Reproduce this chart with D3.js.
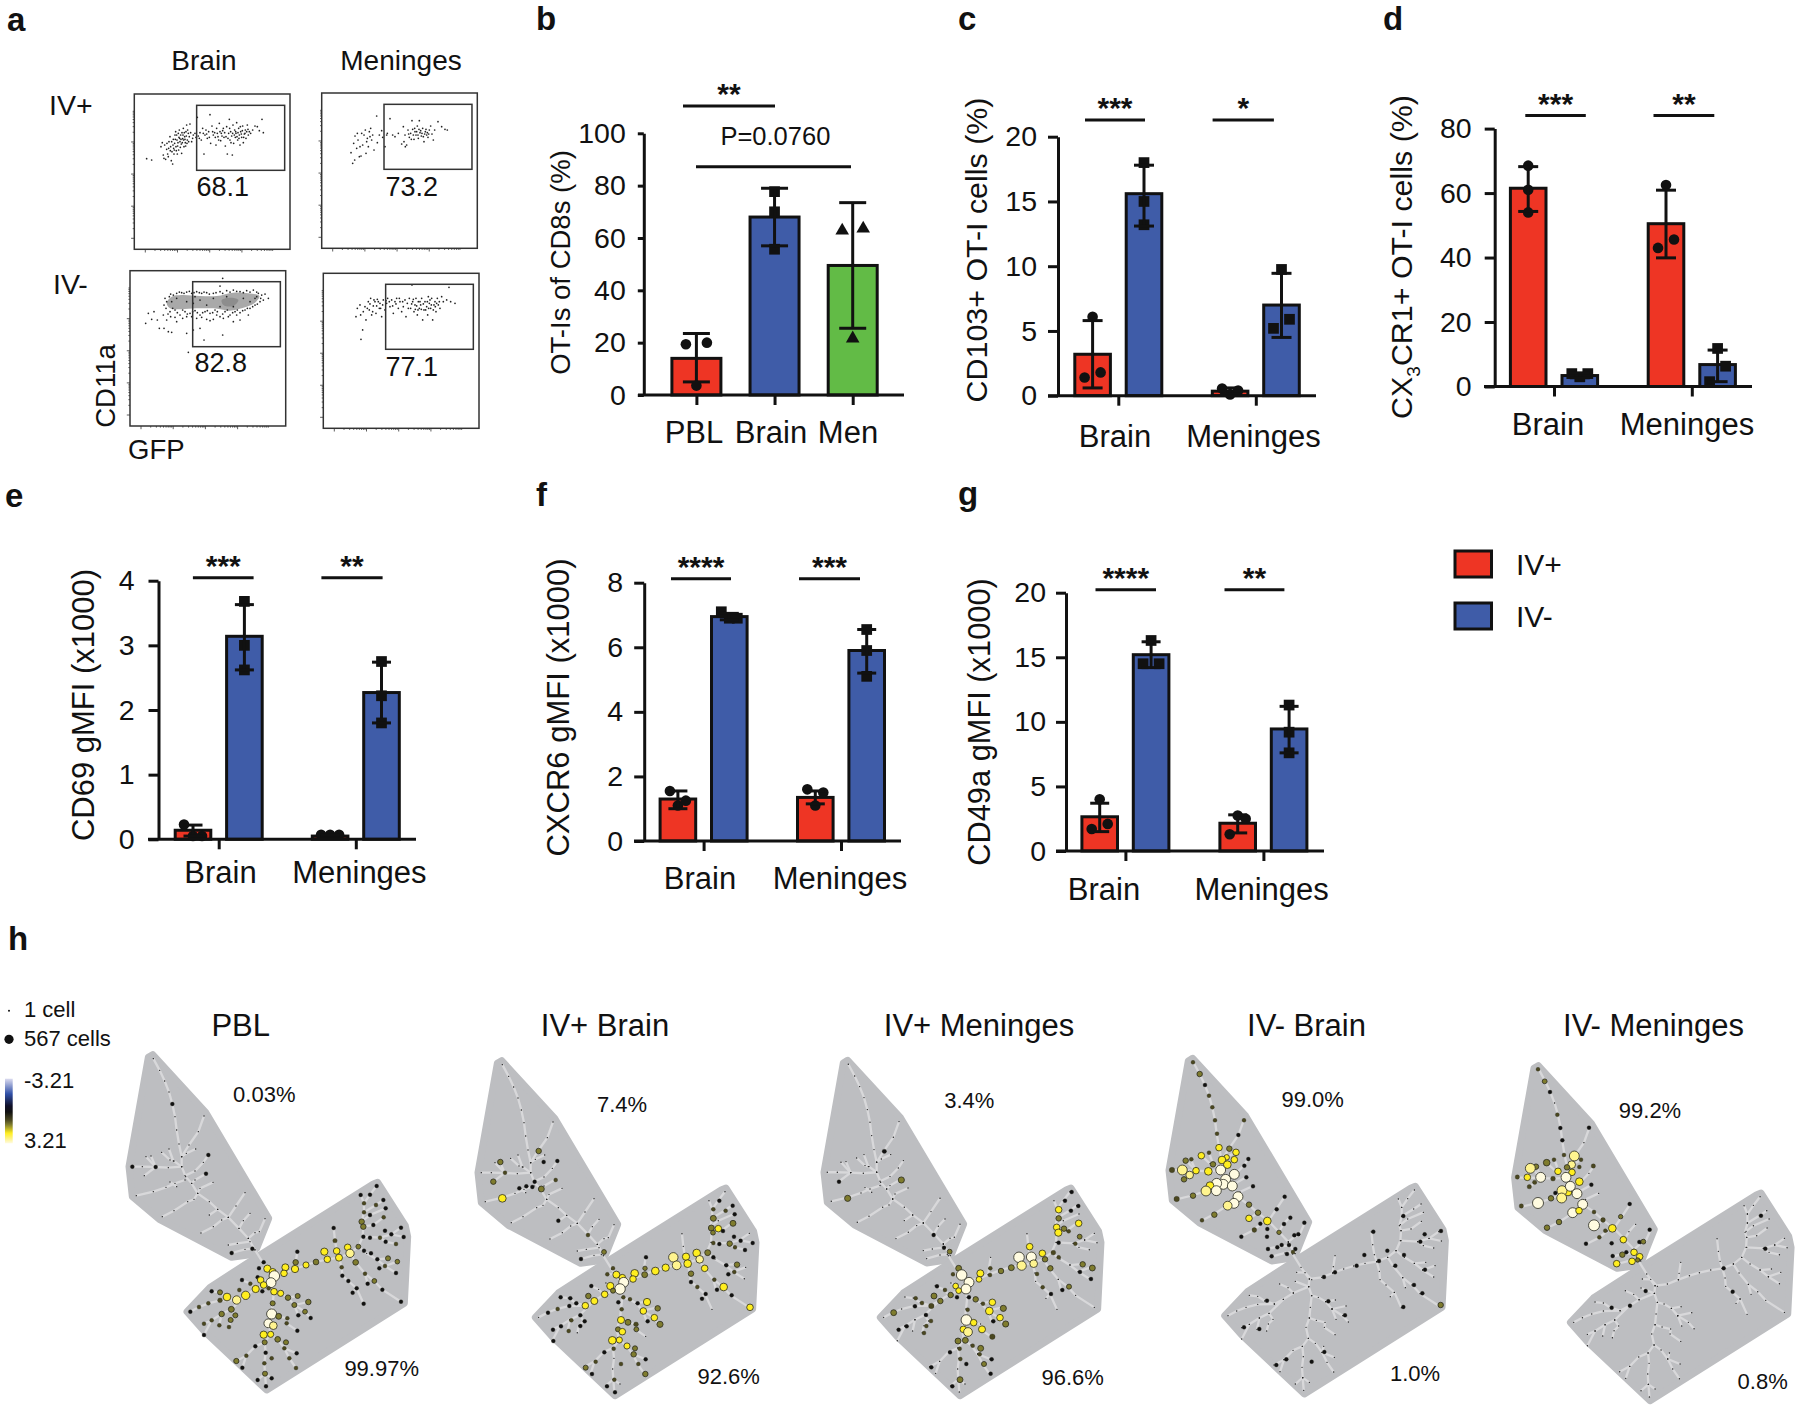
<!DOCTYPE html>
<html><head><meta charset="utf-8">
<script src="https://cdn.jsdelivr.net/npm/d3@7"></script>
<style>html,body{margin:0;background:#fff}svg{display:block}text{font-family:"Liberation Sans",Arial,sans-serif;fill:#111}</style>
</head><body><div id="c"></div>
<script>
// ---------- DATA: bar panels ----------
const seriesNames=['IV+','IV-'];
const bCats=['PBL','Brain','Men'];
const bMean=[14,68,49.5], bLow=[5,57,25.5], bHigh=[23.5,79,73.5];
const bPts=[[[19.4,-1],[20,1],[3.6,0]],[[77.7,0],[70,0],[55.7,0]],[[62.8,-1],[63.6,1],[21.6,0]]];
const groups=['Brain','Meninges'];
const cMean=[3.2,15.6,0.35,7], cLow=[0.6,13.1,0.1,4.5], cHigh=[5.8,17.8,0.6,9.45];
const cPts=[[[6.1,0],[1.4,-1],[1.8,1]],[[18,0],[15,0],[13.2,0]],[[0.55,-1],[0.1,0],[0.4,1]],[[9.75,0],[5.2,-1],[5.9,1]]];
const dMean=[61.5,3.4,50.5,6.8], dLow=[54.3,2.7,39.9,1.5], dHigh=[68.2,4.1,60.9,11.3];
const dPts=[[[68.5,0],[61,0],[54,0]],[[4,-1],[3,0],[4,1]],[[62.5,0],[43,-1],[45.6,1]],[[11.8,0],[1.5,-1],[6.3,1]]];
const eMean=[0.14,3.14,0.05,2.27], eLow=[0.05,2.62,0.03,1.8], eHigh=[0.22,3.63,0.07,2.74];
const ePts=[[[0.23,-1],[0.05,1],[0.05,0]],[[3.68,0],[3,0],[2.62,0]],[[0.07,-1],[0.07,0],[0.07,1]],[[2.75,0],[2.22,0],[1.8,0]]];
const fMean=[1.3,6.95,1.35,5.9], fLow=[1,6.85,1.15,5.2], fHigh=[1.55,7.05,1.55,6.55];
const fPts=[[[1.55,-1],[1.1,0],[1.25,1]],[[7.1,-1],[6.9,0],[6.9,1]],[[1.6,-1],[1.1,0],[1.5,1]],[[6.55,0],[5.9,0],[5.1,0]]];
const gMean=[2.65,15.2,2.15,9.45], gLow=[1.5,14.2,1.4,7.6], gHigh=[3.7,16.2,2.8,11.2];
const gPts=[[[4,0],[1.7,-1],[2.1,1]],[[16.3,0],[14.5,-1],[14.5,1]],[[2.75,0],[2.5,1],[1.3,-1]],[[11.3,0],[9.2,0],[7.6,0]]];

// ---------- DATA: flow plots, events in acquisition units of each plot ----------
const flowBrainPlus=[[440,476],[455,480],[483,440],[487,428],[490,465],[492,475],[497,478],[500,448],[503,462],[505,470],[507,425],[510,410],[512,440],[514,482],[516,455],[518,492],[520,418],[521,445],[522,462],[524,430],[525,405],[527,395],[529,452],[531,420],[533,438],[535,400],[537,412],[538,390],[540,425],[542,405],[544,432],[546,398],[548,416],[550,385],[552,440],[554,410],[556,428],[558,395],[560,375],[562,420],[565,400],[568,410],[570,372],[575,425],[580,405],[585,400],[592,352],[595,408],[600,398],[604,420],[608,385],[612,462],[615,405],[618,390],[622,415],[626,395],[630,344],[632,430],[636,378],[640,405],[644,398],[648,435],[650,385],[654,410],[658,370],[662,422],[664,400],[668,392],[672,412],[676,438],[680,380],[682,462],[686,400],[688,358],[690,420],[692,395],[695,408],[697,465],[699,375],[701,430],[704,390],[706,412],[708,400],[710,368],[713,420],[716,385],[718,405],[720,435],[722,395],[725,412],[728,378],[730,428],[733,402],[736,390],[738,415],[742,375],[745,405],[748,395],[752,400],[758,390],[765,378],[772,380],[778,392],[786,358],[790,398],
[494,435],[501,430],[506,445],[511,452],[515,425],[519,435],[523,450],[526,418],[528,440],[530,405],[532,462],[534,428],[536,450],[539,415],[541,442],[543,418],[545,460],[547,428],[549,405],[551,420],[553,398],[555,418],[557,438],[559,408],[561,430],[563,390],[566,425],[572,398],[578,415],[588,412],[598,415],[610,400],[620,402],[628,412],[638,395],[646,412],[652,400],[656,420],[660,395],[666,408],[670,385],[674,398],[678,410],[684,415],[689,385],[693,428],[698,400],[703,405],[707,395],[711,410],[714,398],[717,415],[721,380],[724,402],[727,392],[731,412],[735,400],[740,395],[744,388]];
const flowMenPlus=[[1053,458],[1058,490],[1064,480],[1061,430],[1065,408],[1070,445],[1074,420],[1078,470],[1083,468],[1085,400],[1088,435],[1092,405],[1096,390],[1098,460],[1102,415],[1105,440],[1108,395],[1112,385],[1115,420],[1118,405],[1122,450],[1130,348],[1132,428],[1138,405],[1145,392],[1148,412],[1155,440],[1160,405],[1162,400],[1170,356],[1178,405],[1185,410],[1195,400],[1205,432],[1210,380],[1215,405],[1220,435],[1224,390],[1228,412],[1232,400],[1236,362],[1238,388],[1242,418],[1245,395],[1248,405],[1252,378],[1255,415],[1258,362],[1260,398],[1264,408],[1268,385],[1272,425],[1276,395],[1280,405],[1284,412],[1288,390],[1292,378],[1296,402],[1300,420],[1304,390],[1314,365],[1325,380],[1335,388],[1342,390],
[1226,402],[1234,418],[1240,405],[1244,385],[1250,395],[1254,405],[1257,388],[1262,392],[1266,400],[1270,410],[1274,402],[1278,388],[1282,398],[1286,402],[1212,425],[1216,440],[1072,400],[1080,440],[1100,425],[1110,410]];
const flowBrainMinus=[[508,890],[520,885],[530,880],[545,878],[560,876],[575,880],[590,875],[605,880],[620,878],[640,880],[660,875],[680,872],[700,870],[720,875],[740,872],[760,870],[775,880],[785,885],[795,882],[805,895],[780,905],[765,915],[750,925],[735,930],[720,938],[705,935],[690,945],[675,935],[660,950],[645,930],[630,940],[615,935],[600,945],[585,932],[570,940],[555,935],[540,945],[525,930],[510,935],[498,925],[492,915],[490,945],[500,960],[512,950],[530,965],[548,955],[437,970],[445,940],[462,935],[478,985],[492,985],[505,995],[515,997],[472,960],[455,958],[560,1000],[580,990],[600,985],[612,1020],[668,1005],[630,962],[668,835],[660,858],[700,965],[720,960],[565,1057],[745,945],[515,905],[530,895],[560,905],[580,910],[585,890],[600,900],[620,915],[640,895],[660,920],[680,890],[700,920],[730,895],[750,905],[765,895],[500,905],[495,895],[770,890],[782,895],[620,958],[640,958],[670,955],[590,955],[575,950],
[512,882],[538,876],[552,880],[568,874],[582,878],[598,878],[612,876],[628,882],[648,878],[668,880],[690,876],[710,874],[730,878],[750,876],[770,876],[790,900],[772,912],[758,920],[742,925],[728,932],[712,930],[698,938],[682,930],[668,942],[652,935],[638,938],[622,932],[608,938],[592,938],[578,935],[562,942],[548,930],[532,938],[518,925],[504,942],[525,952],[560,950],[605,952],[650,945],[685,950],[710,945]];
const flowMenMinus=[[1083,1018],[1088,990],[1068,950],[1072,925],[1080,915],[1082,945],[1090,935],[1095,920],[1098,960],[1105,905],[1108,930],[1112,895],[1115,945],[1120,918],[1125,905],[1128,940],[1132,898],[1138,925],[1140,910],[1145,950],[1150,900],[1155,930],[1160,910],[1163,895],[1170,920],[1175,900],[1180,940],[1185,905],[1190,895],[1195,925],[1200,905],[1205,935],[1210,920],[1215,900],[1218,950],[1222,910],[1228,895],[1232,925],[1236,855],[1238,905],[1242,935],[1245,915],[1248,895],[1252,945],[1255,905],[1258,925],[1262,915],[1265,895],[1268,960],[1272,930],[1275,905],[1280,920],[1283,945],[1285,890],[1288,910],[1292,925],[1295,895],[1298,960],[1302,915],[1305,905],[1308,935],[1312,895],[1315,915],[1320,925],[1325,890],[1330,905],[1340,900],[1347,862],[1352,905],[1365,910],
[1102,925],[1110,912],[1118,935],[1122,900],[1130,918],[1135,905],[1142,925],[1148,915],[1158,902],[1168,905],[1178,918],[1188,912],[1198,895],[1208,905],[1225,925],[1235,912],[1240,898],[1246,928],[1250,918],[1254,930],[1260,905],[1264,928],[1270,912],[1277,930],[1282,905],[1286,925],[1290,900],[1294,915],[1300,930],[1306,920],[1310,910],[1318,905]];
const flowDensityOuter=[[500,908],[515,890],[545,885],[600,888],[650,888],[700,878],[745,880],[778,888],[765,908],[725,925],[690,932],[640,925],[590,925],[540,928],[510,925]];
const flowDensityInner=[[665,900],[695,893],[715,900],[700,918],[670,915]];
const flowValues=['68.1','73.2','82.8','77.1'];

// ---------- DATA: spanning tree layout (layout units) ----------
const hullUpper=[[458,224],[617,397],[806,715],[770,805],[750,824],[695,832],[478,718],[397,650],[387,560],[445,232]];
const hullLower=[[1133,607],[1216,737],[1223,770],[1213,970],[800,1230],[612,1053],[561,995],[630,922],[785,822],[1120,612]];
const branchesUpper=[
[[460,236],[479,271],[494,303],[507,336],[517,372],[525,410],[530,450],[537,492],[545,530],[545,560],[557,590],[575,610],[593,640],[628,665],[653,688],[685,712],[717,745],[745,775],[765,810]],
[[612,408],[595,455],[567,495],[545,530]],
[[545,560],[505,563],[467,561],[427,560],[397,560]],[[438,530],[467,561]],[[453,528],[467,561]],[[433,587],[467,561]],
[[485,517],[510,540],[522,543],[545,560]],[[507,507],[520,543]],[[587,507],[559,520],[545,530]],
[[625,525],[610,547],[585,573],[555,587]],[[618,581],[585,600],[575,610]],[[639,607],[600,625],[593,640]],
[[409,647],[460,635],[498,622],[525,610],[555,600]],[[510,606],[530,620]],
[[487,710],[522,692],[563,665],[582,658],[593,640]],[[735,638],[708,678],[685,712]],
[[795,716],[778,755],[765,758],[745,775]],[[603,759],[640,740],[665,720],[685,712]],[[628,705],[653,688]],[[750,700],[730,722],[717,745]],
[[685,795],[712,790],[750,785],[745,775]],[[695,819],[735,808],[757,806],[765,810]]];
const branchesLower=[
[[765,810],[790,850],[815,885],[852,880],[885,867],[918,855],[948,846],[982,838],[1017,833],[1050,820],[1075,800],[1088,770],[1090,740],[1085,725],[1092,697],[1092,670],[1082,645]],
[[1130,618],[1110,644],[1092,670]],[[1150,660],[1128,675],[1092,697]],[[1157,685],[1110,705],[1088,722]],[[1151,712],[1120,735],[1090,740]],
[[1203,743],[1174,763],[1140,773],[1090,770]],[[1211,771],[1174,763]],[[1188,792],[1157,785],[1140,773]],
[[1075,800],[1100,820],[1130,838],[1164,835]],[[1192,845],[1155,858],[1130,838]],[[1188,879],[1155,858]],
[[1050,820],[1067,847],[1095,881],[1123,903],[1147,929],[1203,965]],[[1103,911],[1095,881]],
[[1017,833],[1025,862],[1027,887],[1045,903],[1070,925],[1091,971]],[[1058,938],[1070,925]],
[[1001,744],[1005,782],[1010,812],[1017,833]],[[892,815],[887,848],[885,867]],
[[815,885],[813,908],[767,927],[737,946],[710,960],[681,951],[660,937],[635,934]],[[710,960],[660,961],[625,970],[597,981],[571,995]],
[[737,946],[694,988],[665,1002],[635,1021],[612,1031]],[[694,988],[706,1006],[692,1020],[687,1041]],[[665,1002],[658,1036]],[[635,1021],[612,1065]],
[[777,865],[802,866],[822,887]],[[773,892],[813,908]],[[726,900],[751,911],[767,927]],
[[813,908],[822,935],[818,970],[815,1002],[805,1030],[812,1063],[794,1087],[766,1099],[739,1127],[709,1143]],[[739,1127],[727,1163]],
[[794,1087],[797,1118],[793,1150],[795,1181],[798,1219]],[[795,1181],[773,1200]],[[795,1181],[815,1195]],
[[812,1063],[833,1078],[853,1105],[868,1135],[888,1164]],[[858,1087],[853,1105],[890,1120]],
[[822,935],[842,940],[864,953],[893,948]],[[864,953],[883,975],[895,1006]],[[883,975],[915,995],[932,1014]],[[925,966],[883,975]],
[[815,1002],[836,1009],[862,1015],[860,1030],[892,1052]]];

// ---------- DATA: nodes per sample [x, y, level, radius?] in each sample's layout units ----------
const expressionLevels=[0.1,0.9,1.35,2.2,2.8,3.2];
const nodesPBL=[[517,372,0],[625,525,0],[397,560,0],[467,561,0],[618,581,0],[695,819,0],[757,806,0],
[892,815,0],[791,847,0],[777,865,0],[802,866,3,3.3],[856,862,3,3.2],[887,847,2,2.5],[818,876,3,3.2],[823,888,5,4.8],[852,880,3,3],[885,867,3,3.3],[918,855,3,2.8],[948,846,2,2.6],[773,892,0],[782,900,3,3],[813,908,5,4.5],[791,915,3,3],[726,900,0],[751,911,1],[767,927,3,3.3],[787,934,0],[806,925,1],[822,935,3,3],[842,940,3,2.8],[718,930,1],[737,946,3,3.8],[681,951,3,3.5],[710,960,4,3.8],[660,937,2,2.3],[635,934,0],[660,961,1,2.2],[625,970,1],[597,981,1],[571,995,0],[864,953,2,2.5],[893,948,2,2.3],[883,975,2,2.3],[925,966,2,2.5],[818,970,2,2.3],[694,988,2,2.7],[665,1002,2,2.5],[706,1006,2,2.3],[915,995,2,2.2],[895,1006,0],[932,1014,0],[692,1020,2,2.3],[635,1021,1],[612,1031,1],[658,1036,1],[687,1041,1],[612,1065,0],[815,1002,5,4.6],[836,1009,2,2.7],[862,1015,1],[860,1030,1],[805,1030,5,4],[820,1037,4,3.5],[892,1052,0],[791,1064,3,3.3],[812,1063,3,2.8],[833,1078,2,2.6],[858,1087,2,2.3],[794,1087,2,2.3],[853,1105,1],[766,1099,0],[797,1118,0],[890,1120,0],[739,1127,1],[709,1143,2,2.4],[815,1135,1],[868,1135,1],[793,1150,1],[727,1163,0],[888,1164,1],[795,1181,2,2.3],[773,1200,0],[815,1195,0],[798,1219,0],
[973,815,3,3.3],[982,838,3,3],[1010,813,3,3],[1017,833,3,3.2],[1043,802,3,3],[1050,820,4,3.8],[1067,847,2,2.6],[1075,800,2,2.2],[1005,782,1,2],[1001,744,0],[1025,862,1],[1027,887,0],[1045,903,0],[1070,925,0],[1058,938,0],[1091,971,0],[1095,881,1],[1123,903,2,2.2],[1103,911,0],[1147,929,0],[1203,965,0],[1092,812,0],[1113,820,0],[1132,838,0],[1164,835,2,2.3],[1192,845,2,2.1],[1138,865,0],[1155,858,1],[1188,879,0],[1130,618,0],[1110,644,0],[1082,645,0],[1150,660,0],[1092,670,1],[1128,675,1],[1157,685,0],[1092,697,1],[1110,705,0],[1151,712,1],[1085,725,2,2.5],[1090,740,2,2.5],[1120,735,0],[1155,752,0],[1203,743,0],[1174,763,0],[1090,770,0],[1110,773,0],[1140,773,1],[1157,785,0],[1211,771,0],[1188,792,1]];
const nodesIVpBrain=[[266,513,2,2.5],[151,546,2,2.5],[281,546,0],[322,543,0],[165,578,1],[130,605,2,2.5],[254,605,0],[317,600,1],[229,619,0],[247,621,0],[208,625,0],[274,627,2,2.7],[157,655,3,3.5],[325,722,0],[414,765,1],[462,816,2,2.2],[393,837,0],
[808,662,0],[790,688,1],[848,677,0],[827,692,1],[854,703,0],[790,715,2,2.7],[849,730,2,2.7],[784,744,2,2.7],[805,746,3,3],[789,758,2,2.2],[819,753,0],[852,770,0],[872,782,0],[790,789,1],[808,792,0],[839,791,2,2.5],[908,789,0],[855,802,1],[885,810,0],[773,818,2,2.7],[740,819,3,3.5],[708,830,3,3.3],[670,832,4,4.3],[749,838,4,3.5],[713,851,3,3.5],[680,856,4,4],[647,863,3,3.3],[764,865,3,3],[616,873,3,3.5],[790,832,0],[829,856,0],[861,854,2,2.5],[723,881,2,2.5],[835,883,0],[853,876,1],[588,832,0],[585,865,2,2],[584,884,2,2.7],[554,880,3,3.5],[549,897,3,3],[489,865,1],[472,883,1],[499,884,3,3.2],[517,893,3,3],[521,907,5,4.5],[510,927,5,4.8],[481,918,3,3.3],[489,932,2,2.3],[424,918,0],[415,948,2,2.5],[464,943,3,3],[433,963,3,3.2],[406,977,3,3],[332,952,0],[361,955,0],[379,970,0],[358,978,0],[323,987,1],[294,998,0],[505,967,0],[520,952,1],[540,958,1],[563,970,0],[591,966,3,3.3],[515,988,1],[580,993,3,3],[623,985,2,2.5],[613,1013,3,3],[593,1024,0],[630,1033,2,2.8],[391,1006,0],[404,1024,0],[364,1021,1],[391,1038,0],[333,1039,0],[309,1049,0],[356,1053,1],[310,1083,0],[513,1020,3,3.2],[534,1027,2,2.7],[558,1033,1,2.2],[559,1048,2,2.2],[504,1048,2,2.3],[517,1055,3,3],[487,1081,3,3.5],[508,1080,3,2.8],[531,1098,3,2.8],[555,1105,2,2.3],[491,1106,1],[551,1123,2,2.5],[463,1117,0],[437,1145,1],[587,1138,0],[513,1152,1],[565,1152,1],[407,1163,2,2.3],[426,1182,0],[586,1182,2,2.5],[493,1199,1],[471,1219,0],[495,1237,0],[723,906,0],[742,921,1],[767,942,0],[756,956,0],[793,899,1],[801,929,0],[821,921,3,3.5],[845,946,0],[900,982,3,3]];
const nodesIVpMen=[[253,334,0,2],[304,420,2,2.8],[117,425,0],[143,475,2,2.8],[401,585,0],[432,623,0],[449,635,2,2.2],
[815,456,0],[795,482,0],[835,498,0],[776,509,3,3],[813,512,0],[776,535,2,2.5],[836,550,3,3],[770,562,3,3],[792,566,2,2.5],[775,578,3,3.3],[806,574,1],[776,608,0],[839,590,2,2.2],[826,611,1],[689,620,3,3],[727,640,3,3],[760,638,1,2.2],[657,652,5,4.8],[694,651,5,4.5],[735,658,2,2.5],[776,652,1],[665,677,4,4.2],[701,671,4,3.5],[634,683,2,2.7],[603,693,2,2.5],[751,685,2,2.5],[571,685,1],[570,705,1],[848,673,2,2.5],[877,684,2,2.7],[711,702,1],[840,696,0],[873,717,0],[541,700,3,3.2],[537,718,3,2.6],[476,685,2,2.7],[459,703,1],[485,705,5,4.8],[507,727,5,4.5],[498,747,5,4.5],[467,738,3,2.6],[476,752,3,2.6],[411,739,0],[435,750,1],[452,765,2,2.5],[471,772,0],[507,772,0],[527,778,2,2.5],[402,768,2,2.7],[421,783,2,2.5],[347,775,1],[366,789,1],[394,798,1,2.5],[345,799,0],[281,818,2,2.7],[503,809,1],[577,787,3,3],[549,791,1],[610,805,2,2.8],[568,813,3,3.5],[378,825,0],[600,833,3,3],[580,844,0],[617,852,2,2.8],[499,840,5,4.8],[521,848,3,3],[393,843,1],[379,858,1],[320,859,0],[296,869,0],[490,868,3,3],[504,876,4,4],[546,868,3,3.2],[372,879,1],[577,890,1,2.5],[474,903,2,2.7],[496,901,2,2.7],[518,917,1],[542,925,2,2.7],[479,926,1],[539,943,1],[450,937,0],[481,957,1],[575,958,0],[499,972,0],[552,972,2,2.3],[394,982,0],[572,1001,0],[480,1019,2,2.7],[457,1039,0],[728,742,1],[807,740,2,2.3],[787,750,0],[753,762,0]];
const nodesIVmBrain=[[129,67,1],[149,102,2,2.5],[165,135,0],[177,167,1],[187,202,1],[195,241,1],[201,281,1],[265,285,0],[282,241,1],[207,323,3,3],[238,326,2,2.5],[258,337,3,3],[177,338,1],[154,347,3,3],[230,352,3,2.5],[216,360,3,3.5],[253,359,3,3],[295,357,0],[124,358,1],[107,362,2,2.5],[189,373,2,2.5],[232,374,3,3.5],[283,377,0],[138,392,3,3],[97,390,4,4.5],[66,390,1,2.5],[175,394,3,3.5],[212,390,5,4.5],[253,403,5,4.5],[119,405,4,3.5],[102,418,2,2.5],[289,412,0],[227,418,5,4.5],[220,433,5,4.5],[200,430,5,4.5],[180,437,3,3.5],[247,438,5,4.5],[309,439,0],[168,453,4,4.5],[199,452,5,4.5],[129,467,2,2.5],[80,477,1,2.5],[264,470,5,4.5],[404,470,0],[252,490,5,4.5],[233,497,4,4],[297,494,2,2.5],[380,508,0],[324,518,2,2.5],[193,524,2,2.5],[421,533,0],[156,541,1],[297,535,3,3],[352,543,3,3.5],[463,548,0],[331,551,0],[402,552,0],[313,570,1,2.2],[387,577,2,2],[352,567,0],[274,590,0],[351,590,0],[433,586,0],[445,583,0],[395,615,0],[382,622,0],[417,615,0],[354,627,0],[365,649,0],[411,642,0],[436,627,0],[429,636,1],
[670,575,0],[760,528,0],[643,645,0],[712,632,0],[687,663,0],[620,677,0],[555,697,0],[522,711,0],[736,677,0],[762,645,0],[824,583,0],[873,573,0],[811,605,0],[825,689,0],[792,735,0],[817,760,0],[872,795,2,2.5],[760,801,0],[535,784,0],[585,826,0],[351,782,0],[282,862,0],[328,867,0],[379,975,0],[409,958,0],[485,965,0],[523,936,0]];
const nodesIVmMen=[[174,88,1],[194,124,2,2.2],[210,156,0],[232,224,1],[241,264,0],[327,263,0],[247,301,0],[252,345,1],[283,348,4,4.5],[303,359,1],[222,359,1],[200,368,2,3],[275,374,4,3.5],[168,380,2,2.5],[151,385,4,4.5],[261,382,2,2.5],[298,381,1],[340,378,1,2],[234,394,3,3],[276,397,3,3],[142,412,3,3],[112,411,1,2],[182,412,5,4.5],[219,416,1,2.2],[258,412,5,4.5],[164,427,1,2],[298,425,3,3.5],[148,440,1,2],[334,434,0],[264,456,3,3.5],[246,452,4,4.5],[271,439,5,4.5],[226,459,0],[291,461,5,4.5],[245,474,4,4.5],[213,475,2,2.5],[174,489,5,5],[124,498,1,2],[308,493,5,4.5],[449,492,0],[278,518,5,4.5],[297,512,3,3],[342,516,1],[422,530,2,2],[237,546,2,2.5],[369,540,1,2.2],[342,556,5,5],[201,563,2,2.5],[397,565,3,3.5],[376,572,1],[509,569,0],[358,592,1],[430,599,3,3],[478,606,0],[490,605,2,2.2],[318,611,0],[395,610,0],[462,637,3,3],[439,637,0],[427,644,2,2.5],[398,648,0],[479,650,3,3],[473,660,2,2],[456,664,3,3],[410,671,3,3],
[843,527,0],[856,626,0],[731,685,0],[497,753,0],[450,797,0],[395,803,0],[758,755,0]];
const sampleNames=['PBL','IV+ Brain','IV+ Meninges','IV- Brain','IV- Meninges'];
const upperPct=['0.03%','7.4%','3.4%','99.0%','99.2%'];
const lowerPct=['99.97%','92.6%','96.6%','1.0%','0.8%'];

// ---------- drawing ----------
const W=1800,H=1409;
const svg=d3.select('#c').append('svg').attr('width',W).attr('height',H).attr('viewBox',[0,0,W,H]);
const colors={'IV+':'#ee3524','IV-':'#3f5ca8',Men:'#62bb46',PBL:'#ee3524',Brain:'#3f5ca8'};
const ink='#111';
function txt(x,y,s,size,opt={}){return svg.append('text').attr('x',x).attr('y',y).attr('font-size',size)
  .attr('text-anchor',opt.anchor||'middle').attr('font-weight',opt.weight||null).text(s);}
function vtxt(x,y,s,size){return svg.append('text').attr('transform',`translate(${x},${y}) rotate(-90)`).attr('font-size',size).attr('text-anchor','middle').text(s);}

function marker(g,kind,x,y){
  if(kind==='circle') g.append('circle').attr('cx',x).attr('cy',y).attr('r',5.3).attr('fill',ink);
  else{const sym=kind==='square'?d3.symbolSquare:d3.symbolTriangle;const a=kind==='square'?115:80;
    g.append('path').attr('transform',`translate(${x},${y})`).attr('d',d3.symbol().type(sym).size(a)()).attr('fill',ink);}
}
function panel(o){
  const g=svg.append('g');
  const y=d3.scaleLinear().domain([0,o.yMax]).range([o.y0,o.yTop]);
  const x=d3.scalePoint().domain(o.cats).range(o.ticks);
  const ya=d3.axisLeft(y).tickValues(o.yTicks).tickFormat(d3.format('d')).tickSize(o.tickL||10).tickSizeOuter(0).tickPadding(o.pad||3);
  const ga=g.append('g').attr('transform',`translate(${o.axX},0)`).call(ya);
  ga.selectAll('text').attr('font-size',28.5).style('fill',ink);
  ga.selectAll('line,path').attr('stroke',ink).attr('stroke-width',3);
  const bars=o.mean.map((m,i)=>{
    const grouped=o.off>0;
    const cat=o.cats[grouped?Math.floor(i/2):i];
    const s=grouped?(i%2===0?-1:1):0;
    return {m,lo:o.low[i],hi:o.high[i],pts:o.pts[i],cx:x(cat)+s*o.off,color:grouped?colors[seriesNames[i%2]]:colors[cat],kind:o.kinds[i]};
  });
  g.selectAll('rect.b').data(bars).join('rect').attr('x',d=>d.cx-o.w/2).attr('width',o.w)
    .attr('y',d=>y(d.m)).attr('height',d=>y(0)-y(d.m)).attr('fill',d=>d.color).attr('stroke',ink).attr('stroke-width',3);
  bars.forEach(d=>{
    d.pts.forEach(p=>marker(g,d.kind,d.cx+p[1]*o.jit,y(p[0])));
    g.append('line').attr('x1',d.cx).attr('x2',d.cx).attr('y1',y(d.lo)).attr('y2',y(d.hi)).attr('stroke',ink).attr('stroke-width',3);
    [d.lo,d.hi].forEach(v=>g.append('line').attr('x1',d.cx-o.cap/2).attr('x2',d.cx+o.cap/2).attr('y1',y(v)).attr('y2',y(v)).attr('stroke',ink).attr('stroke-width',3));
  });
  const xa=d3.axisBottom(x).tickSize(10).tickSizeOuter(0).tickFormat('');
  const gx=g.append('g').attr('transform',`translate(0,${o.y0})`).call(xa);
  gx.select('.domain').remove();
  gx.selectAll('line').attr('stroke',ink).attr('stroke-width',3);
  g.append('line').attr('x1',o.xStart).attr('x2',o.xEnd).attr('y1',o.y0).attr('y2',o.y0).attr('stroke',ink).attr('stroke-width',3);
  o.cats.forEach((c,i)=>txt(o.labelX[i],o.labelY,c,31));
  (o.sig||[]).forEach(s=>{
    g.append('line').attr('x1',s.x1).attr('x2',s.x2).attr('y1',s.y).attr('y2',s.y).attr('stroke',ink).attr('stroke-width',3);
    txt((s.x1+s.x2)/2,s.y-2,s.t,30,{weight:'bold'});
  });
}
const groupedKinds=['circle','square','circle','square'];
panel({cats:bCats,mean:bMean,low:bLow,high:bHigh,pts:bPts,kinds:['circle','square','triangle'],y0:395,yTop:133.3,yMax:100,yTicks:[0,20,40,60,80,100],axX:643.8,xStart:638,xEnd:904,ticks:[696.4,852.7],off:0,w:49,cap:27,jit:10.5,tickL:6,pad:12,labelX:[694,771,848],labelY:443,
  sig:[{x1:683,x2:775,y:106,t:'**'}]});
panel({cats:groups,mean:cMean,low:cLow,high:cHigh,pts:cPts,kinds:groupedKinds,y0:395.7,yTop:136.7,yMax:20,yTicks:[0,5,10,15,20],axX:1058,xStart:1048,xEnd:1316,ticks:[1118.3,1255.8],off:25.7,w:35.6,cap:20,jit:8,pad:11,labelX:[1115,1253.5],labelY:447,
  sig:[{x1:1085,x2:1145,y:120,t:'***'},{x1:1212.6,x2:1273.9,y:120,t:'*'}]});
panel({cats:groups,mean:dMean,low:dLow,high:dHigh,pts:dPts,kinds:groupedKinds,y0:386.5,yTop:128.6,yMax:80,yTicks:[0,20,40,60,80],axX:1494.7,xStart:1484,xEnd:1752,ticks:[1554,1691.8],off:25.8,w:35.6,cap:20,jit:8,pad:13,labelX:[1548,1687],labelY:434.5,
  sig:[{x1:1525.3,x2:1585.8,y:115.5,t:'***'},{x1:1653.5,x2:1714.3,y:115.5,t:'**'}]});
panel({cats:groups,mean:eMean,low:eLow,high:eHigh,pts:ePts,kinds:groupedKinds,y0:839.3,yTop:580.7,yMax:4,yTicks:[0,1,2,3,4],axX:158.5,xStart:148,xEnd:416,ticks:[218.7,355.8],off:25.7,w:35.6,cap:19,jit:9,pad:14,labelX:[220.5,359.4],labelY:883,
  sig:[{x1:192.9,x2:253.6,y:577.7,t:'***'},{x1:321.4,x2:382.6,y:577.7,t:'**'}]});
panel({cats:groups,mean:fMean,low:fLow,high:fHigh,pts:fPts,kinds:groupedKinds,y0:841,yTop:582.7,yMax:8,yTicks:[0,2,4,6,8],axX:644.2,xStart:634,xEnd:901,ticks:[703.6,841],off:25.7,w:35.6,cap:19,jit:8,pad:11,labelX:[700,840],labelY:888.5,
  sig:[{x1:671,x2:731,y:578.7,t:'****'},{x1:799,x2:860,y:578.7,t:'***'}]});
panel({cats:groups,mean:gMean,low:gLow,high:gHigh,pts:gPts,kinds:groupedKinds,y0:851,yTop:592.7,yMax:20,yTicks:[0,5,10,15,20],axX:1066,xStart:1056,xEnd:1324,ticks:[1125.4,1263.4],off:25.7,w:35.6,cap:19,jit:8,pad:10,labelX:[1104,1261.6],labelY:900,
  sig:[{x1:1095.5,x2:1156,y:589.7,t:'****'},{x1:1224.5,x2:1284.4,y:589.7,t:'**'}]});

// b extra bracket
svg.append('line').attr('x1',696).attr('x2',851).attr('y1',166.7).attr('y2',166.7).attr('stroke',ink).attr('stroke-width',3);
txt(775.4,145,'P=0.0760',25.5);

// axis titles
vtxt(570,262.5,'OT-Is of CD8s (%)',27.5);
vtxt(986.5,250,'CD103+ OT-I cells (%)',30.4);
const dT=svg.append('text').attr('transform','translate(1412,257) rotate(-90)').attr('font-size',30.4).attr('text-anchor','middle');
dT.append('tspan').text('CX');
dT.append('tspan').attr('font-size',19).attr('dy',8).text('3');
dT.append('tspan').attr('dy',-8).text('CR1+ OT-I cells (%)');
vtxt(94,705,'CD69 gMFI (x1000)',31);
vtxt(569,707.5,'CXCR6 gMFI (x1000)',31);
vtxt(990,722,'CD49a gMFI (x1000)',30.8);

// panel letters
[['a',7,31],['b',536,30],['c',958,30],['d',1383,30],['e',5,507],['f',536,506],['g',958,505],['h',8,950]].forEach(l=>txt(l[1],l[2],l[0],33,{anchor:'start',weight:'bold'}));

// legend
seriesNames.forEach((s,i)=>{
  const ly=[551,603][i];
  svg.append('rect').attr('x',1455).attr('y',ly).attr('width',36.5).attr('height',26).attr('fill',colors[s]).attr('stroke',ink).attr('stroke-width',3);
  txt(1516,ly+24,s,30,{anchor:'start'});
});

// flow cytometry plots
const frames=[
 {pts:flowBrainPlus,zx:[403,870],zy:[282,748],x:[134.3,290],y:[94,249.3],gate:[590,854,316,511],lab:[222.7,196]},
 {pts:flowMenPlus,zx:[965,1432],zy:[279,745],x:[321.7,477.3],y:[93,248.3],gate:[1152,1416,313,508],lab:[411.7,196]},
 {pts:flowBrainMinus,zx:[390,857],zy:[812,1278],x:[130,285.7],y:[270.7,426],gate:[578,841,845,1040],lab:[220.7,371.7],dens:true},
 {pts:flowMenMinus,zx:[970,1437],zy:[820,1285],x:[323.3,479],y:[273.3,428.3],gate:[1157,1420,853,1048],lab:[411.7,375.7]}];
const decades=[0,1,2,3];
const logMinor=[1,2,3,4,5,6,7,8,9].map(d=>Math.log10(d));
frames.forEach((f,i)=>{
  const sx=d3.scaleLinear().domain(f.zx).range(f.x), sy=d3.scaleLinear().domain(f.zy).range(f.y);
  const g=svg.append('g');
  g.append('rect').attr('x',f.x[0]).attr('y',f.y[0]).attr('width',f.x[1]-f.x[0]).attr('height',f.y[1]-f.y[0]).attr('fill','#fff').attr('stroke','#333').attr('stroke-width',1.5);
  if(f.dens){
    const area=d3.line().x(p=>sx(p[0])).y(p=>sy(p[1])).curve(d3.curveCatmullRomClosed);
    g.append('path').attr('d',area(flowDensityOuter)).attr('fill','#a9a9a9');
    g.append('path').attr('d',area(flowDensityInner)).attr('fill','#8d8d8d');
  }
  g.selectAll('circle').data(f.pts).join('circle').attr('cx',p=>sx(p[0])).attr('cy',p=>sy(p[1])).attr('r',0.85).attr('fill','#222');
  const [a,b,c,d]=f.gate;
  g.append('rect').attr('x',sx(a)).attr('y',sy(c)).attr('width',sx(b)-sx(a)).attr('height',sy(d)-sy(c)).attr('fill','none').attr('stroke','#333').attr('stroke-width',1.5);
  // log-decade tick marks
  const xt=d3.scaleLinear().domain([0,4.4]).range([f.x[0]+11,f.x[1]-3]);
  const yt=d3.scaleLinear().domain([0,4.4]).range([f.y[1]-11,f.y[0]+3]);
  decades.forEach(k=>logMinor.forEach((m,mi)=>{
    const len=mi===0?3.2:1.6;
    g.append('line').attr('x1',xt(k+m)).attr('x2',xt(k+m)).attr('y1',f.y[1]).attr('y2',f.y[1]+len).attr('stroke','#333').attr('stroke-width',.8);
    g.append('line').attr('y1',yt(k+m)).attr('y2',yt(k+m)).attr('x1',f.x[0]).attr('x2',f.x[0]-len).attr('stroke','#333').attr('stroke-width',.8);
  }));
  txt(f.lab[0],f.lab[1],flowValues[i],27);
});
txt(204,70,'Brain',28); txt(401,70,'Meninges',28);
txt(49,115,'IV+',28.5,{anchor:'start'}); txt(53,294,'IV-',28.5,{anchor:'start'});
vtxt(115,386,'CD11a',27.5); txt(128,459,'GFP',27.5,{anchor:'start'});

// tree panels
const exprColor=d3.scaleLinear().domain([-3.21,-1.7,-0.5,0.1,0.9,1.35,2.2,2.8,3.21])
  .range(['#dcdcf0','#3050a8','#101028','#111111','#4a4720','#7f7c2e','#ffee1f','#fff48f','#fffbe2']);
const samples=[
 {nodes:nodesPBL,ox:0,oy:980,du:[0,0],dl:[0,0],tx:240.7,pu:[264.3,1101.7],pl:[381.7,1375.7]},
 {nodes:nodesIVpBrain,ox:450,oy:980,du:[349,6],dl:[348.3,5.7],tx:605,pu:[622,1112],pl:[728.7,1384]},
 {nodes:nodesIVpMen,ox:800,oy:1040,du:[695,5.6],dl:[693.3,5.7],tx:979,pu:[969.3,1108.3],pl:[1072.7,1385]},
 {nodes:nodesIVmBrain,ox:1150,oy:1040,du:[1040,3.6],dl:[1037.7,4],tx:1306.5,pu:[1312.7,1107.3],pl:[1415,1381.3]},
 {nodes:nodesIVmMen,ox:1480,oy:1040,du:[1385.6,11],dl:[1383.4,10.7],tx:1653.5,pu:[1650,1118.3],pl:[1762.7,1389]}];
const lx=d3.scaleLinear().domain([0,1350]).range([0,450]), ly=d3.scaleLinear().domain([0,1287]).range([980,1409]);
const branchLine=d3.line().x(p=>lx(p[0])).y(p=>ly(p[1]));
samples.forEach((s,si)=>{
  const g=svg.append('g');
  [[hullUpper,s.du],[hullLower,s.dl]].forEach(([hull,d])=>{
    g.append('path').attr('transform',`translate(${d[0]},${d[1]})`).attr('d',branchLine(hull)+'Z').attr('fill','#bdbec1').attr('stroke','#bdbec1').attr('stroke-width',7).attr('stroke-linejoin','round');
  });
  [[branchesUpper,s.du],[branchesLower,s.dl]].forEach(([br,d])=>{
    const t=g.append('g').attr('transform',`translate(${d[0]},${d[1]})`);
    t.selectAll('path').data(br).join('path').attr('d',branchLine).attr('fill','none').attr('stroke','#d8d8da').attr('stroke-width',2.3);
    br.forEach(b=>t.selectAll(null).data(b).join('circle').attr('cx',p=>lx(p[0])).attr('cy',p=>ly(p[1])).attr('r',0.7).attr('fill','#222'));
  });
  const sx=d3.scaleLinear().domain([0,900]).range([s.ox,s.ox+300]), sy=d3.scaleLinear().domain([0,900]).range([s.oy,s.oy+300]);
  g.selectAll('circle.n').data(s.nodes).join('circle').attr('class','n')
    .attr('cx',n=>sx(n[0])).attr('cy',n=>sy(n[1])).attr('r',n=>(n[3]||1.8)*1.1)
    .attr('fill',n=>exprColor(expressionLevels[n[2]])).attr('stroke','#2a2a20').attr('stroke-width',n=>n[2]<=1?0.3:0.8);
  txt(s.tx,1036,sampleNames[si],31);
  txt(s.pu[0],s.pu[1],upperPct[si],22);
  txt(s.pl[0],s.pl[1],lowerPct[si],22);
});
// tree legend
svg.append('circle').attr('cx',9).attr('cy',1010.7).attr('r',1).attr('fill','#111');
svg.append('circle').attr('cx',9).attr('cy',1039.3).attr('r',4.6).attr('fill','#111');
txt(24,1016.7,'1 cell',22,{anchor:'start'}); txt(24,1046,'567 cells',22,{anchor:'start'});
const grad=svg.append('defs').append('linearGradient').attr('id','cb').attr('x1',0).attr('x2',0).attr('y1',0).attr('y2',1);
const stopScale=d3.scaleLinear().domain([-3.21,3.21]).range([0,1]);
exprColor.domain().forEach((v,i)=>grad.append('stop').attr('offset',stopScale(v)).attr('stop-color',exprColor.range()[i]));
svg.append('rect').attr('x',5).attr('y',1078.7).attr('width',7.7).attr('height',64.6).attr('fill','url(#cb)');
txt(24,1087.7,'-3.21',22,{anchor:'start'}); txt(24,1148,'3.21',22,{anchor:'start'});
</script></body></html>
